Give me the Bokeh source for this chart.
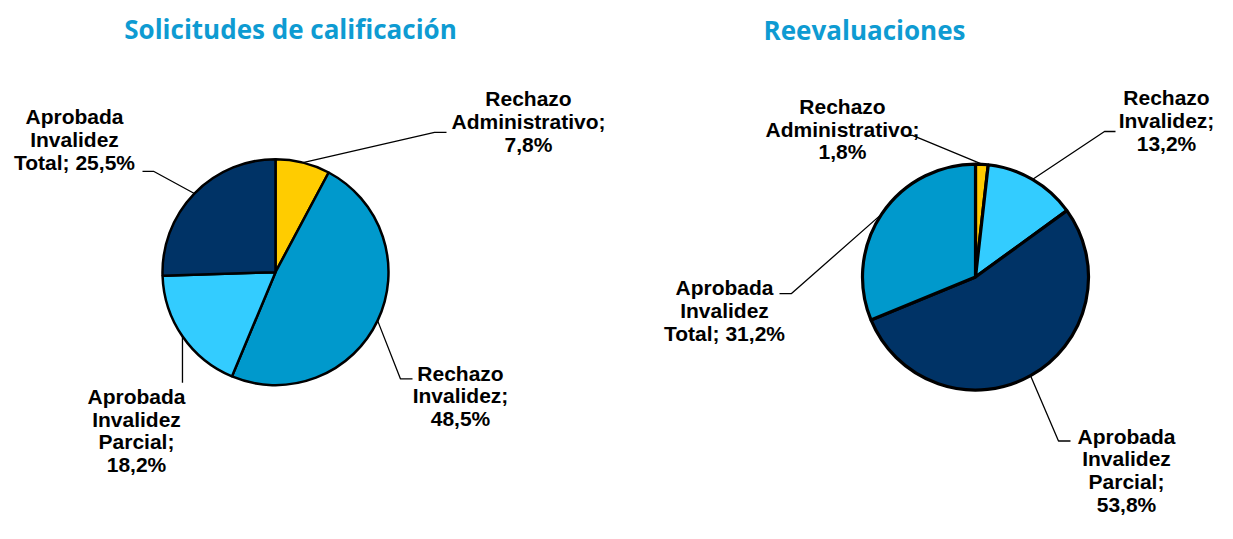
import math
from bokeh.plotting import figure
from bokeh.models import Range1d, ColumnDataSource
from bokeh.core.properties import value
from bokeh.embed import file_html
from bokeh.resources import INLINE

# ---------------- data ----------------
categories = ["Rechazo Administrativo", "Rechazo Invalidez",
              "Aprobada Invalidez Parcial", "Aprobada Invalidez Total"]
left_title = "Solicitudes de calificación"
left_values = [7.8, 48.5, 18.2, 25.5]
right_title = "Reevaluaciones"
right_values = [1.8, 13.2, 53.8, 31.2]

# ---------------- styles ----------------
YELLOW, MID, LIGHT, NAVY = "#FFCC00", "#0099CC", "#33CCFF", "#003366"
left_colors = [YELLOW, MID, LIGHT, NAVY]
right_colors = [YELLOW, LIGHT, NAVY, MID]
TITLE_COLOR = "#0E9BD2"

W, H = 1217, 523
p = figure(width=W, height=H, output_backend="svg", toolbar_location=None,
           x_range=Range1d(0, W), y_range=Range1d(0, 539),
           x_axis_location=None, y_axis_location=None, min_border=0,
           outline_line_color=None)
p.grid.visible = False

def Y(y):  # screen (from top, reference px) -> data
    return 539 - y

# layout per pie
pies = [
    dict(title=left_title, values=left_values, colors=left_colors,
         cx=275, cy=280, r=113, lw=2.5, title_xy=(290, 29),
         labels=[(528, 101), (460, 384), (136, 408), (74, 120)],
         merge=[False, False, False, True],
         leaders=[[(434, 136), (446, 136)], [(400, 390), (412, 390)],
                  [(182, 394)], [(153, 176), (142, 176)]]),
    dict(title=right_title, values=right_values, colors=right_colors,
         cx=975, cy=285, r=113, lw=3.2, title_xy=(864, 30),
         labels=[(842, 109), (1166, 100), (1126, 449), (724, 296)],
         merge=[False, False, False, True],
         leaders=[[(912, 139), (904, 139)], [(1104, 135), (1115, 135)],
                  [(1058, 454), (1070, 454)], [(791, 302), (779, 302)]]),
]

LINE_H = 23.5

def fmt(v):
    return ("%.1f" % v).replace(".", ",") + "%"

for pie in pies:
    vals = pie["values"]
    total = sum(vals)
    cum = 0.0
    starts, ends, mids = [], [], []
    for v in vals:
        a0 = math.pi / 2 - 2 * math.pi * cum / total
        cum += v
        a1 = math.pi / 2 - 2 * math.pi * cum / total
        starts.append(a0)
        ends.append(a1)
        mids.append((a0 + a1) / 2)

    cx, cy, r = pie["cx"], Y(pie["cy"]), pie["r"]
    ky = 539 / H  # data units per pixel vertically

    # leader lines
    for m, pts in zip(mids, pie["leaders"]):
        xs = [cx + r * math.cos(m)] + [q[0] for q in pts]
        ys = [cy + r * ky * math.sin(m)] + [Y(q[1]) for q in pts]
        p.line(xs, ys, line_color="black", line_width=1.3)

    src = ColumnDataSource(dict(start=starts, end=ends, color=pie["colors"]))
    p.wedge(x=cx, y=cy, radius=r, start_angle="start", end_angle="end",
            direction="clock", fill_color="color", line_color="black",
            line_width=pie["lw"], source=src)

    # labels
    lx, ly, lt = [], [], []
    for cat, v, (x0, y0), mg in zip(categories, vals, pie["labels"], pie["merge"]):
        lines = cat.split(" ")
        if mg:
            lines[-1] = lines[-1] + "; " + fmt(v)
        else:
            lines[-1] = lines[-1] + ";"
            lines.append(fmt(v))
        for i, t in enumerate(lines):
            lx.append(x0)
            ly.append(Y(y0 + i * LINE_H))
            lt.append(t)
    p.text(x=lx, y=ly, text=lt, text_align="center", text_baseline="middle",
           text_font=value("Liberation Sans"), text_font_style="bold",
           text_font_size="21px", text_color="black")

    tx, ty = pie["title_xy"]
    p.text(x=[tx], y=[Y(ty)], text=[pie["title"]], text_align="center",
           text_baseline="middle", text_font=value("Open Sans"),
           text_font_style="bold", text_font_size="26px", text_color=TITLE_COLOR)

open("out.html", "w").write(file_html(p, INLINE))
